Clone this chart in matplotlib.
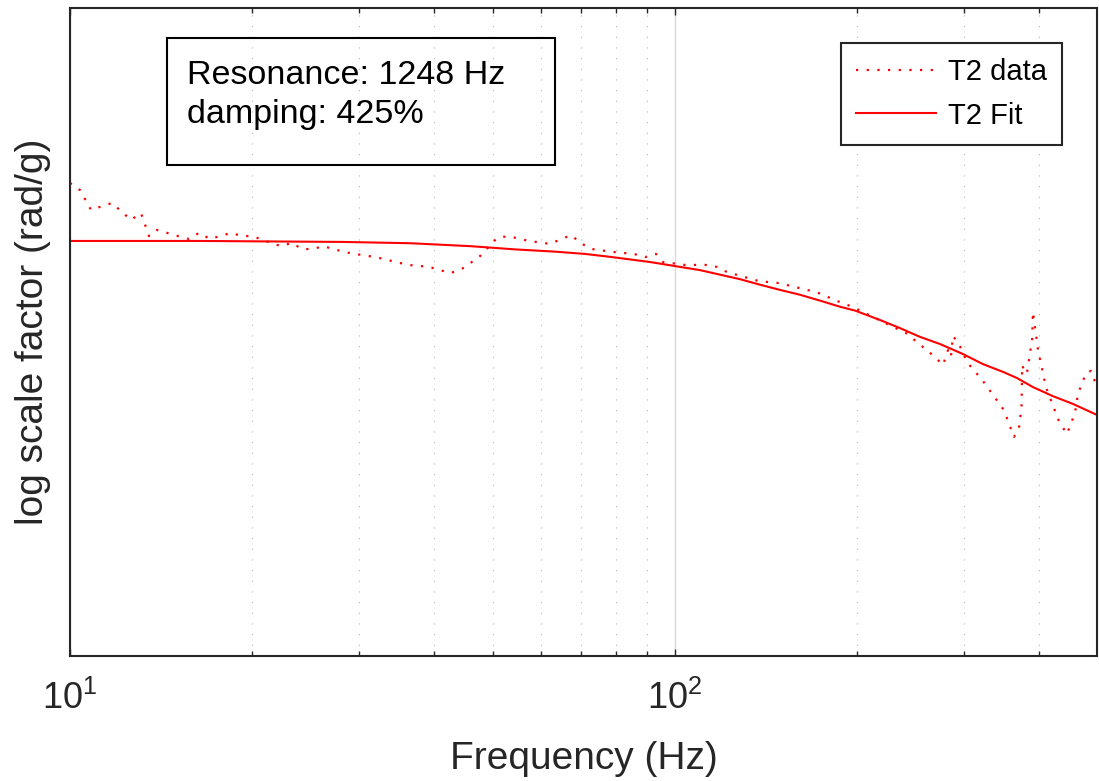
import matplotlib
matplotlib.use("Agg")
import matplotlib.pyplot as plt
from matplotlib.patches import Rectangle
from matplotlib.ticker import LogLocator, NullFormatter

plt.rcParams['font.family'] = ['Liberation Sans', 'DejaVu Sans']

# measured T2 response (frequency in Hz, log scale factor)
data_freq = [10.0, 10.39, 10.83, 11.73, 12.61, 13.10, 13.51, 13.93, 15.09, 15.73,
             16.34, 17.04, 17.70, 18.46, 19.24, 20.00, 21.49, 22.32, 23.28, 24.18,
             25.21, 26.19, 27.31, 28.37, 29.58, 32.05, 36.20, 39.22, 42.49, 44.13,
             47.43, 50.80, 52.97, 57.37, 62.14, 67.32, 70.20, 72.93, 78.99, 85.56,
             89.22, 93.03, 95.54, 103.9, 112.5, 117.3, 121.9, 137.7, 148.6, 167.8,
             175.0, 181.7, 196.9, 222.4, 240.9, 269.0, 277.4, 282.7, 285.9, 288.1,
             294.8, 304.0, 322.9, 349.8, 363.4, 370.4, 374.0, 375.0, 378.9, 381.8,
             389.5, 390.6, 398.1, 410.4, 431.2, 444.6, 458.4, 463.7, 478.0, 487.2,
             498.5]
data_val = [1.460, 1.438, 1.377, 1.398, 1.346, 1.367, 1.296, 1.315, 1.296, 1.287,
            1.306, 1.287, 1.296, 1.306, 1.296, 1.296, 1.275, 1.265, 1.275, 1.256,
            1.256, 1.265, 1.256, 1.247, 1.241, 1.231, 1.207, 1.201, 1.182, 1.191,
            1.231, 1.290, 1.296, 1.281, 1.272, 1.299, 1.272, 1.256, 1.247, 1.241,
            1.231, 1.241, 1.216, 1.207, 1.207, 1.201, 1.185, 1.157, 1.151, 1.127,
            1.117, 1.102, 1.077, 1.028, 0.997, 0.923, 0.898, 0.944, 0.923, 0.988,
            0.963, 0.907, 0.849, 0.759, 0.676, 0.704, 0.769, 0.898, 0.873, 0.873,
            0.978, 1.062, 0.947, 0.830, 0.725, 0.685, 0.750, 0.809, 0.873, 0.880,
            0.830]

# fitted model
fit_freq = [10.0, 16.40, 28.26, 36.48, 45.84, 54.40, 63.34, 71.01, 78.09, 84.27,
            90.94, 101.9, 110.0, 118.7, 128.1, 138.2, 149.1, 160.9, 173.6, 187.4,
            198.5, 218.3, 235.5, 254.1, 274.2, 299.3, 322.9, 348.5, 367.6, 390.6,
            421.5, 454.9, 498.5]
fit_val = [1.281, 1.281, 1.278, 1.274, 1.265, 1.255, 1.248, 1.241, 1.232, 1.224,
           1.216, 1.201, 1.191, 1.177, 1.163, 1.146, 1.130, 1.115, 1.097, 1.078,
           1.066, 1.037, 1.012, 0.985, 0.963, 0.932, 0.901, 0.877, 0.858, 0.830,
           0.802, 0.778, 0.744]

resonance_hz = 1248
damping_pct = 425

fig = plt.figure(figsize=(10.99, 7.81), dpi=100)
ax = fig.add_axes([70 / 1099, 125 / 781, 1027 / 1099, 648 / 781])

ax.plot(data_freq, data_val, color='red', lw=1.6, linestyle=(0, (1, 3.8)), label='T2 data')
ax.plot(fit_freq, fit_val, color='red', lw=1.5, label='T2 Fit')

ax.set_xscale('log')
ax.set_xlim(10, 498.5)
ax.set_ylim(0, 2)
ax.set_yticks([])
ax.xaxis.set_major_locator(LogLocator(base=10))
ax.xaxis.set_minor_locator(LogLocator(base=10, subs=range(2, 10)))
ax.xaxis.set_minor_formatter(NullFormatter())
ax.tick_params(axis='x', which='both', direction='in', top=True, colors='#262626',
               labelsize=26, pad=18)
ax.tick_params(axis='x', which='major', length=5, width=1)
ax.tick_params(axis='x', which='minor', length=3.5, width=1)
ax.grid(which='major', axis='x', color='#d9d9d9', lw=1, linestyle='-')
ax.grid(which='minor', axis='x', color='#b3b3b3', lw=0.8, linestyle=(0, (1, 8.6)))
ax.set_axisbelow(True)
for s in ax.spines.values():
    s.set_color('#262626')
    s.set_linewidth(1.5)

ax.set_xlabel('Frequency (Hz)', fontsize=28, color='#262626', labelpad=17)
ax.set_ylabel('log scale factor (rad/g)', fontsize=28, color='#262626', labelpad=14)

leg = ax.legend(loc='upper right', fontsize=21, frameon=True, fancybox=False,
                framealpha=1, edgecolor='#262626', handlelength=2.74,
                handletextpad=0.4, borderaxespad=1.2, borderpad=0.53,
                labelspacing=0.52)
leg.get_frame().set_linewidth(1.5)

# annotation box
fig.patches.append(Rectangle((167 / 1099, 1 - 165 / 781), 388 / 1099, 127 / 781,
                             transform=fig.transFigure, fill=False,
                             edgecolor='black', lw=1.5))
fig.text(187 / 1099, 1 - 84 / 781, 'Resonance: %d Hz' % resonance_hz,
         fontsize=24.5, va='baseline', color='black')
fig.text(187 / 1099, 1 - 123 / 781, 'damping: %d%%' % damping_pct,
         fontsize=24.5, va='baseline', color='black')

fig.savefig('out.png', dpi=100)
